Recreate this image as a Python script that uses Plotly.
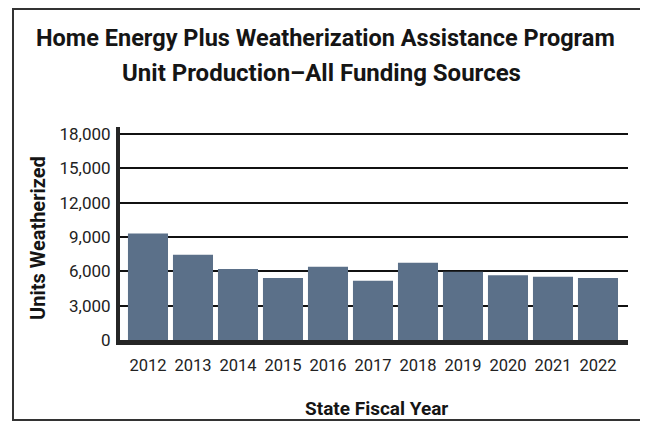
import plotly.graph_objects as go

years = ["2012", "2013", "2014", "2015", "2016", "2017", "2018", "2019", "2020", "2021", "2022"]
units = [9300, 7450, 6200, 5420, 6400, 5180, 6750, 5970, 5650, 5530, 5420]
y_ticks = [0, 3000, 6000, 9000, 12000, 15000, 18000]
y_tick_labels = ["0", "3,000", "6,000", "9,000", "12,000", "15,000", "18,000"]
title_lines = ["Home Energy Plus Weatherization Assistance Program",
               "Unit Production\u2013All Funding Sources"]
x_title = "State Fiscal Year"
y_title = "Units Weatherized"

BOLD_FONT = "Roboto, Liberation Sans, sans-serif"
TICK_FONT = "Roboto, Liberation Sans, sans-serif"

# page has an 8px body margin, so figure pixel = page pixel - 8
W, H = 640, 415
L, R, T, B = 112, 20, 119, 83
pw, ph = W - L - R, H - T - B


def px_x(px):
    return (px - L) / pw


def px_y(py):
    return (H - B - py) / ph


fig = go.Figure(go.Bar(
    x=years, y=units,
    marker=dict(color="#5b7089", line=dict(width=0)),
))

annotations = [
    dict(text="<b>%s</b>" % title_lines[0], xref="paper", yref="paper",
         x=px_x(317), y=px_y(30), xanchor="center", yanchor="middle", showarrow=False,
         font=dict(family=BOLD_FONT, size=23.5, color="#151515")),
    dict(text="<b>%s</b>" % title_lines[1], xref="paper", yref="paper",
         x=px_x(313), y=px_y(65), xanchor="center", yanchor="middle", showarrow=False,
         font=dict(family=BOLD_FONT, size=24, color="#151515")),
    dict(text="<b>%s</b>" % x_title, xref="paper", yref="paper",
         x=px_x(368), y=px_y(400), xanchor="center", yanchor="middle", showarrow=False,
         font=dict(family=BOLD_FONT, size=19, color="#151515")),
    dict(text="<b>%s</b>" % y_title, xref="paper", yref="paper", textangle=-90,
         x=px_x(30), y=px_y(230), xanchor="center", yanchor="middle", showarrow=False,
         font=dict(family=BOLD_FONT, size=20, color="#151515")),
]

fig.update_layout(
    width=W, height=H,
    margin=dict(l=L, r=R, t=T, b=B),
    paper_bgcolor="white", plot_bgcolor="white",
    bargap=0.11,
    showlegend=False,
    xaxis=dict(
        type="category",
        range=[-0.622, 10.667],
        showline=True, linecolor="#252525", linewidth=5,
        ticks="", showgrid=False, ticklabelstandoff=6,
        tickfont=dict(family=TICK_FONT, size=16.5, color="#222222"),
    ),
    yaxis=dict(
        range=[0, 18612],
        tickvals=y_ticks, ticktext=y_tick_labels,
        showline=True, linecolor="#252525", linewidth=4,
        showgrid=True, gridcolor="#111111", gridwidth=2,
        zeroline=False, ticks="", ticklabelstandoff=2,
        tickfont=dict(family=TICK_FONT, size=17, color="#222222"),
    ),
    annotations=annotations,
    shapes=[
        dict(type="rect", xref="paper", yref="paper",
             x0=px_x(5), x1=px_x(637), y0=px_y(412), y1=px_y(1),
             line=dict(color="#333333", width=2), fillcolor="rgba(0,0,0,0)", layer="below"),
    ],
)

fig.write_html("out.html")
